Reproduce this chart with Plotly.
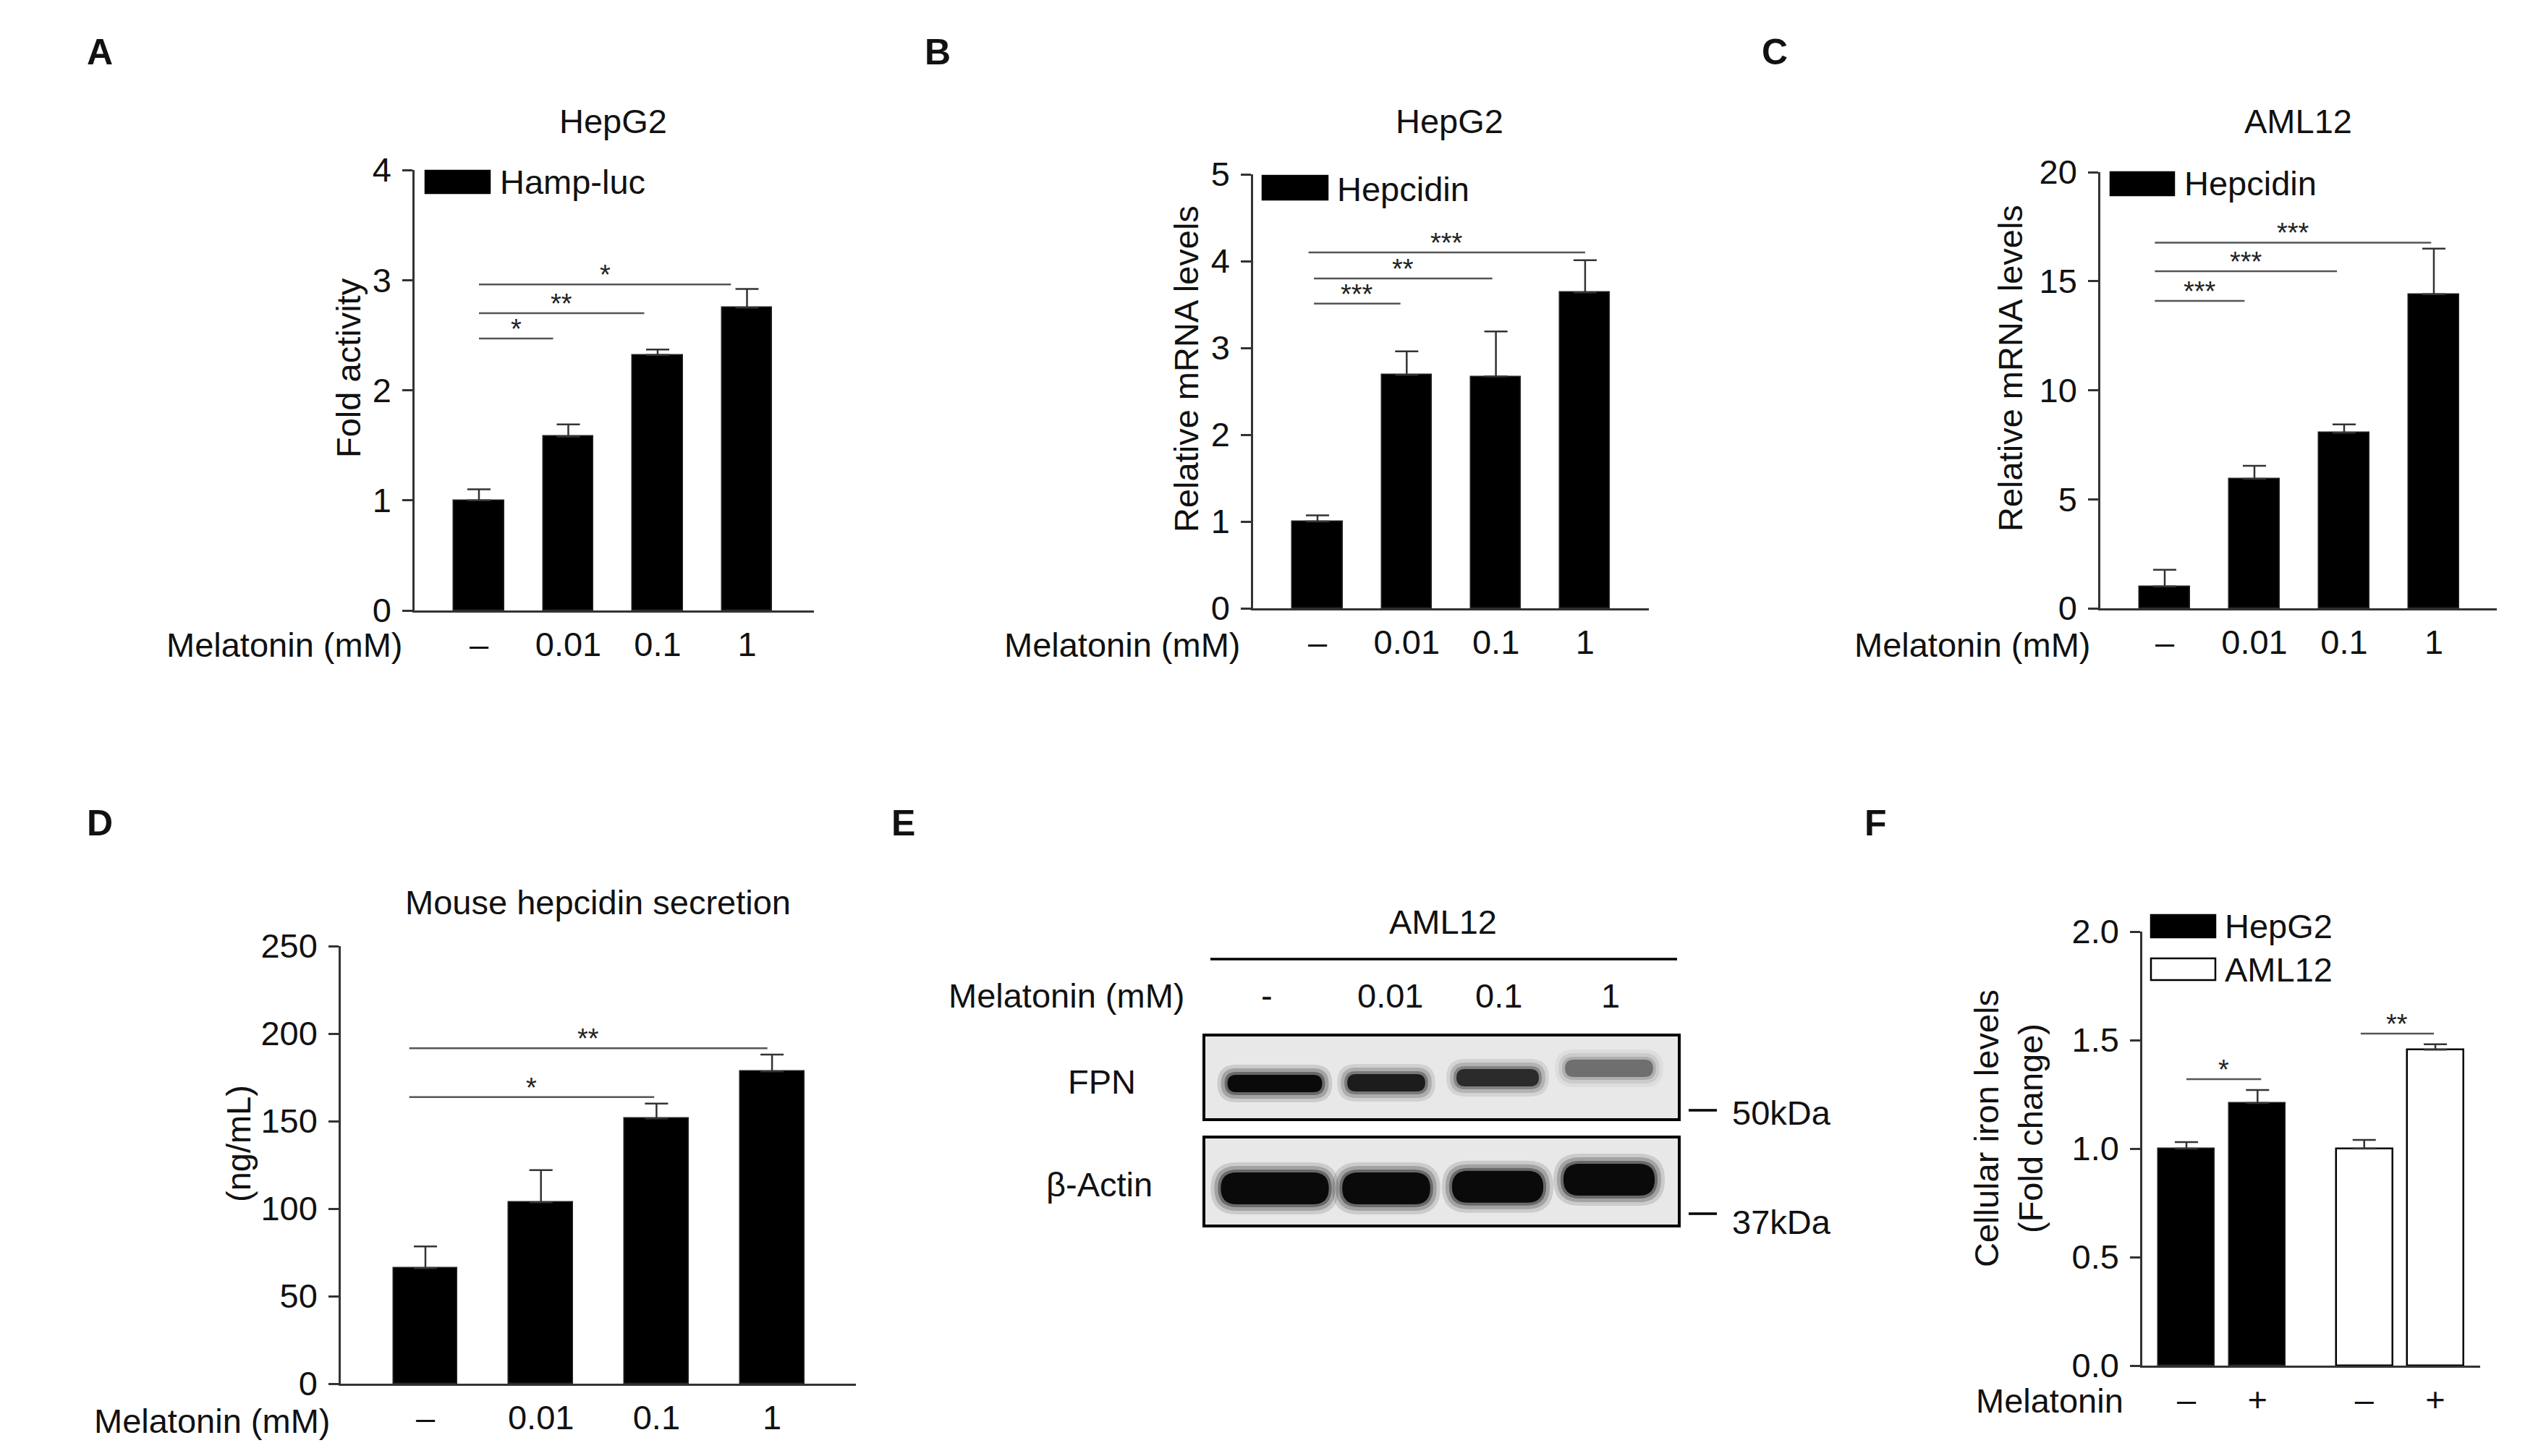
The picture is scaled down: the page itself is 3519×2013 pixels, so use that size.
import plotly.graph_objects as go

W, H = 3519, 2013
OFF = 8  # page body margin compensation
FONT = "Liberation Sans, Arial, Helvetica, sans-serif"
AX = "#333333"

# ---------------- data ----------------
doses = ["–", "0.01", "0.1", "1"]

a_vals = [1.0, 1.58, 2.32, 2.75]
a_err = [0.10, 0.11, 0.05, 0.17]
a_sig = [(0.0, 0.83, 2.47, "*"), (0.0, 1.85, 2.70, "**"), (0.0, 2.82, 2.96, "*")]

b_vals = [1.0, 2.69, 2.67, 3.64]
b_err = [0.07, 0.27, 0.52, 0.37]
b_sig = [(-0.04, 0.93, 3.51, "***"), (-0.04, 1.96, 3.80, "**"), (-0.1, 3.0, 4.10, "***")]

c_vals = [1.0, 5.94, 8.05, 14.4]
c_err = [0.77, 0.59, 0.38, 2.09]
c_sig = [(-0.11, 0.89, 14.1, "***"), (-0.11, 1.92, 15.46, "***"), (-0.11, 2.97, 16.77, "***")]

d_vals = [66.0, 103.6, 151.5, 178.4]
d_err = [12.4, 18.4, 8.5, 9.6]
d_sig = [(-0.14, 1.98, 163.7, "*"), (-0.14, 2.96, 191.6, "**")]

f_groups = ["HepG2", "HepG2", "AML12", "AML12"]
f_treat = ["–", "+", "–", "+"]
f_vals = [1.0, 1.21, 1.0, 1.456]
f_err = [0.03, 0.06, 0.04, 0.025]
f_sig = [(0.0, 1.05, 1.32, "*"), (2.45, 3.48, 1.53, "**")]

e_lanes = ["-", "0.01", "0.1", "1"]
fpn_intensity = [1.0, 0.85, 0.75, 0.4]
fpn_center = [0.425, 0.434, 0.496, 0.61]
fpn_width = [0.85, 0.70, 0.74, 0.79]
actin_intensity = [1.0, 1.0, 1.0, 1.0]
actin_center = [0.42, 0.42, 0.44, 0.52]
actin_width = [0.97, 0.79, 0.82, 0.82]

# ---------------- helpers ----------------
def fx(px):
    return (px - OFF) / W

def fy(py):
    return 1 - (py - OFF) / H

layout = dict(
    width=W, height=H, margin=dict(l=0, r=0, t=0, b=0, pad=0, autoexpand=False),
    paper_bgcolor="white", plot_bgcolor="white", showlegend=False,
    font=dict(family=FONT, size=47, color="#111111"),
)
shapes = []
annotations = []
traces = []


def add_chart(n, xpx, ypx, x0px, unitpx, ymax, dtick, ticktext, positions, yfmt=None):
    key = "" if n == 1 else str(n)
    xr = [(xpx[0] - x0px) / unitpx, (xpx[1] - x0px) / unitpx]
    layout["xaxis" + key] = dict(
        domain=[fx(xpx[0]), fx(xpx[1])], range=xr, anchor="y" + key,
        showline=True, linecolor=AX, linewidth=2.5, ticks="",
        tickmode="array", tickvals=positions, ticktext=ticktext,
        showgrid=False, zeroline=False, tickfont=dict(size=47, color="#111"),
        ticklabelstandoff=4, automargin=False,
    )
    ya = dict(
        domain=[fy(ypx[0]), fy(ypx[1])], range=[0, ymax], anchor="x" + key,
        showline=True, linecolor=AX, linewidth=2.5, ticks="outside",
        ticklen=14, tickwidth=2.5, tickcolor=AX, tick0=0, dtick=dtick,
        showgrid=False, zeroline=False, tickfont=dict(size=47, color="#111"),
        ticklabelstandoff=6, automargin=False,
    )
    if yfmt:
        ya["tickformat"] = yfmt
    layout["yaxis" + key] = ya
    return "x" + key, "y" + key


def add_bars(xa, ya, positions, vals, err, width, fill="black", line="#222", lw=1.5):
    traces.append(go.Bar(
        x=positions, y=vals, width=width, xaxis=xa, yaxis=ya,
        marker=dict(color=fill, line=dict(color=line, width=lw)),
        error_y=dict(type="data", symmetric=False, array=err,
                     arrayminus=[0] * len(err), color=AX, thickness=2.5, width=16),
    ))


def add_sig(xa, ya, sig):
    for x0, x1, y, lab in sig:
        shapes.append(dict(type="line", xref=xa, yref=ya, x0=x0, x1=x1, y0=y, y1=y,
                           line=dict(color="#555555", width=2.5)))
        annotations.append(dict(text=lab, xref=xa, yref=ya, x=(x0 + x1) / 2, y=y,
                                xanchor="center", yanchor="bottom", showarrow=False,
                                yshift=-10, font=dict(size=38, color="#222")))


def text(t, px, py, size=47, xanchor="center", yanchor="middle", angle=0, bold=False, color="#111"):
    if bold:
        t = "<b>" + t + "</b>"
    annotations.append(dict(text=t, xref="paper", yref="paper", x=fx(px), y=fy(py),
                            xanchor=xanchor, yanchor=yanchor, showarrow=False,
                            textangle=angle, font=dict(size=size, color=color, family=FONT)))


def legend_box(x0, x1, y0, y1, fill="black"):
    shapes.append(dict(type="rect", xref="paper", yref="paper",
                       x0=fx(x0), x1=fx(x1), y0=fy(y1), y1=fy(y0),
                       fillcolor=fill, line=dict(color="black", width=2.5)))


pos4 = [0, 1, 2, 3]

# ---------------- Panel A ----------------
xa, ya = add_chart(1, (573, 1125), (844, 235), 662, 123.5, 4, 1, doses, pos4)
add_bars(xa, ya, pos4, a_vals, a_err, 0.56)
add_sig(xa, ya, a_sig)
text("A", 138, 72, size=50, bold=True)
text("HepG2", 847, 167)
text("Fold activity", 481, 509, angle=-90)
text("Melatonin (mM)", 558, 891, xanchor="right")
legend_box(588, 677, 236, 267)
text("Hamp-luc", 689, 251, xanchor="left")

# ---------------- Panel B ----------------
xa, ya = add_chart(2, (1732, 2279), (841, 241), 1821, 123.3, 5, 1, doses, pos4)
add_bars(xa, ya, pos4, b_vals, b_err, 0.56)
add_sig(xa, ya, b_sig)
text("B", 1296, 72, size=50, bold=True)
text("HepG2", 2003, 167)
text("Relative mRNA levels", 1640, 510, angle=-90)
text("Melatonin (mM)", 1716, 891, xanchor="right")
legend_box(1745, 1835, 243, 276)
text("Hepcidin", 1846, 261, xanchor="left")

# ---------------- Panel C ----------------
xa, ya = add_chart(3, (2903, 3451), (841, 238), 2992, 124, 20, 5, doses, pos4)
add_bars(xa, ya, pos4, c_vals, c_err, 0.56)
add_sig(xa, ya, c_sig)
text("C", 2453, 72, size=50, bold=True)
text("AML12", 3176, 167)
text("Relative mRNA levels", 2778, 509, angle=-90)
text("Melatonin (mM)", 2891, 891, xanchor="right")
legend_box(2917, 3005, 238, 270)
text("Hepcidin", 3017, 254, xanchor="left")

# ---------------- Panel D ----------------
xa, ya = add_chart(4, (471, 1183), (1913, 1308), 588, 159.7, 250, 50, doses, pos4)
add_bars(xa, ya, pos4, d_vals, d_err, 0.557)
add_sig(xa, ya, d_sig)
text("D", 138, 1138, size=50, bold=True)
text("Mouse hepcidin secretion", 826, 1247)
text("(ng/mL)", 329, 1581, angle=-90)
text("Melatonin (mM)", 458, 1964, xanchor="right")

# ---------------- Panel F ----------------
f_pos = [0, 1, 2.5, 3.5]
xa, ya = add_chart(5, (2961, 3428), (1888, 1288), 3022, 98.3, 2, 0.5, f_treat, f_pos, yfmt=".1f")
add_bars(xa, ya, f_pos[:2], f_vals[:2], f_err[:2], 0.79)
add_bars(xa, ya, f_pos[2:], f_vals[2:], f_err[2:], 0.79, fill="white", line="black", lw=2.5)
add_sig(xa, ya, f_sig)
text("F", 2592, 1138, size=50, bold=True)
text("Cellular iron levels<br>(Fold change)", 2776, 1560, angle=-90)
text("Melatonin", 2937, 1936, xanchor="right")
legend_box(2973, 3062, 1265, 1296)
text("HepG2", 3073, 1280, xanchor="left")
legend_box(2973, 3062, 1325, 1355, fill="white")
text("AML12", 3073, 1340, xanchor="left")

# ---------------- Panel E (western blot) ----------------
text("E", 1248, 1138, size=50, bold=True)
text("AML12", 1994, 1274)
shapes.append(dict(type="line", xref="paper", yref="paper", x0=fx(1673), x1=fx(2318),
                   y0=fy(1326), y1=fy(1326), line=dict(color="black", width=3.5)))
text("Melatonin (mM)", 1639, 1376, xanchor="right")
lane_px = [1751, 1921, 2071, 2226]
for lab, lx in zip(e_lanes, lane_px):
    text(lab, lx, 1376)
text("FPN", 1523, 1495)
text("β-Actin", 1519, 1637)
for ty, ly, lab in [(1535, 1538, "50kDa"), (1678, 1689, "37kDa")]:
    shapes.append(dict(type="line", xref="paper", yref="paper", x0=fx(2334), x1=fx(2373),
                       y0=fy(ty), y1=fy(ty), line=dict(color="black", width=3.5)))
    text(lab, 2392, ly, xanchor="left")

BLOT_X = (1666, 2319)
LANE0, LANE_U = 1762, 154.0


def blot_axes(n, ypx):
    key = str(n)
    xr = [(BLOT_X[0] - LANE0) / LANE_U, (BLOT_X[1] - LANE0) / LANE_U]
    layout["xaxis" + key] = dict(domain=[fx(BLOT_X[0]), fx(BLOT_X[1])], range=xr,
                                 anchor="y" + key, showline=True, mirror=True,
                                 linecolor="black", linewidth=4, ticks="",
                                 showticklabels=False, showgrid=False, zeroline=False,
                                 automargin=False)
    layout["yaxis" + key] = dict(domain=[fy(ypx[0]), fy(ypx[1])], range=[0, 1],
                                 anchor="x" + key, showline=True, mirror=True,
                                 linecolor="black", linewidth=4, ticks="",
                                 showticklabels=False, showgrid=False, zeroline=False,
                                 automargin=False)
    shapes.append(dict(type="rect", xref="x" + key, yref="y" + key, x0=xr[0], x1=xr[1],
                       y0=0, y1=1, fillcolor="#e8e8e8", line=dict(width=0), layer="below"))
    return "x" + key, "y" + key, (ypx[0] - ypx[1])


def rounded_band(cx, cy, w, h, rx, ry):
    x0, x1 = cx - w / 2, cx + w / 2
    y0, y1 = cy - h / 2, cy + h / 2
    rx = min(rx, w / 2)
    ry = min(ry, h / 2)
    return (f"M {x0 + rx},{y0} L {x1 - rx},{y0} Q {x1},{y0} {x1},{y0 + ry} "
            f"L {x1},{y1 - ry} Q {x1},{y1} {x1 - rx},{y1} L {x0 + rx},{y1} "
            f"Q {x0},{y1} {x0},{y1 - ry} L {x0},{y0 + ry} Q {x0},{y0} {x0 + rx},{y0} Z")


def draw_bands(xa, ya, hpx, centers, widths, intens, thick_px):
    for i, (c, w, it) in enumerate(zip(centers, widths, intens)):
        for grow, op in [(14, 0.12), (9, 0.2), (4, 0.35), (0, 0.9)]:
            gx = grow / LANE_U
            gy = grow / hpx
            h = thick_px / hpx + 2 * gy
            path = rounded_band(pos4[i], c, w + 2 * gx, h,
                                (thick_px / 2 + grow) / LANE_U, (thick_px / 2 + grow) / hpx)
            shapes.append(dict(type="path", xref=xa, yref=ya, path=path,
                               fillcolor="black", opacity=min(1.0, op * it),
                               line=dict(width=0)))


xa6, ya6, h6 = blot_axes(6, (1546, 1433))
draw_bands(xa6, ya6, h6, fpn_center, fpn_width, fpn_intensity, 24)
xa7, ya7, h7 = blot_axes(7, (1693, 1574))
draw_bands(xa7, ya7, h7, actin_center, actin_width, actin_intensity, 44)

# invisible traces so blot axes render
for k in ("6", "7"):
    traces.append(go.Scatter(x=[0], y=[0], xaxis="x" + k, yaxis="y" + k, mode="markers",
                             marker=dict(opacity=0), hoverinfo="skip"))

layout["shapes"] = shapes
layout["annotations"] = annotations
layout["bargap"] = 0

fig = go.Figure(data=traces, layout=layout)
fig.write_html("out.html")
